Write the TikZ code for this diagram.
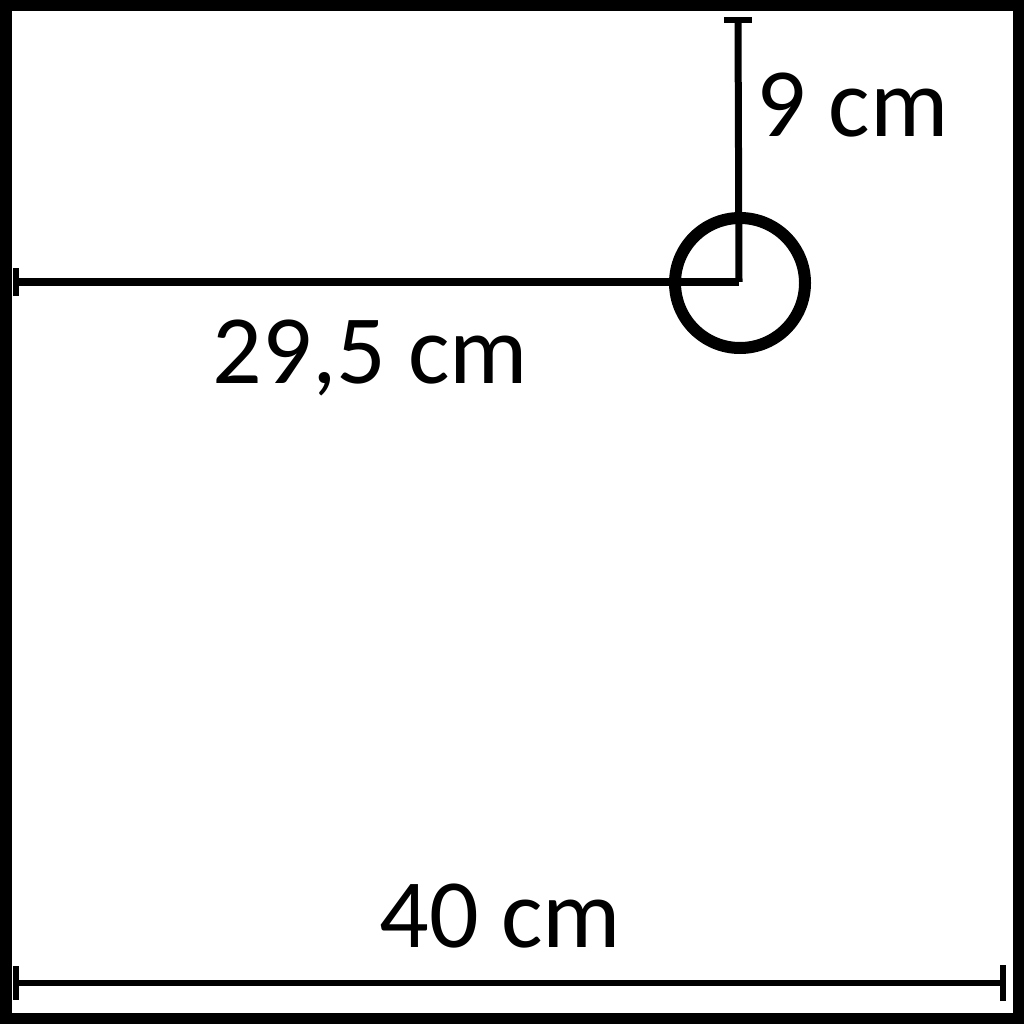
\documentclass[tikz,border=0pt]{standalone}
\usepackage{fontspec}
\setmainfont{Carlito}
\begin{document}
\begin{tikzpicture}[x=1pt,y=-1pt,
  frame/.style={line width=11.5pt},
  dimline/.style={line width=7pt},
  endbar/.style={line width=6pt},
  hole/.style={circle,draw,line width=12pt,minimum size=130pt,inner sep=0pt},
  label/.style={inner sep=0pt,anchor=base,font=\fontsize{98}{108}\selectfont}]
\useasboundingbox (0,0) rectangle (1024,1024);
\fill[white] (0,0) rectangle (1024,1024);
\draw[frame] (5.75,5.75) rectangle (1018.25,1018.25);
% hole
\node[hole] (H) at (740,283) {};
\coordinate (Hc) at (739,282);
\coordinate (L) at (16,282);
\coordinate (T) at (738,20);
\coordinate (BL) at (16,983);
\coordinate (BR) at (1003,983);
% horizontal dimension
\draw[line width=8.5pt] (L) -- (Hc);
\draw[endbar] ([yshift=-14pt]L) -- ([yshift=14pt]L);
% vertical dimension
\draw[dimline] (Hc) -- (T);
\draw[endbar] ([xshift=-14pt]T) -- ([xshift=14pt]T);
% bottom dimension
\draw[line width=5.5pt] (BL) -- (BR);
\draw[endbar] ([yshift=-17pt]BL) -- ([yshift=17pt]BL);
\draw[endbar] ([yshift=-18pt]BR) -- ([yshift=18pt]BR);
% labels
\node[label] (t9) at (852.5,137) {9 cm};
\node[label] (t29) at (370.5,383) {29,5 cm};
\node[label] (t40) at (500.5,947) {40 cm};
\end{tikzpicture}
\end{document}
